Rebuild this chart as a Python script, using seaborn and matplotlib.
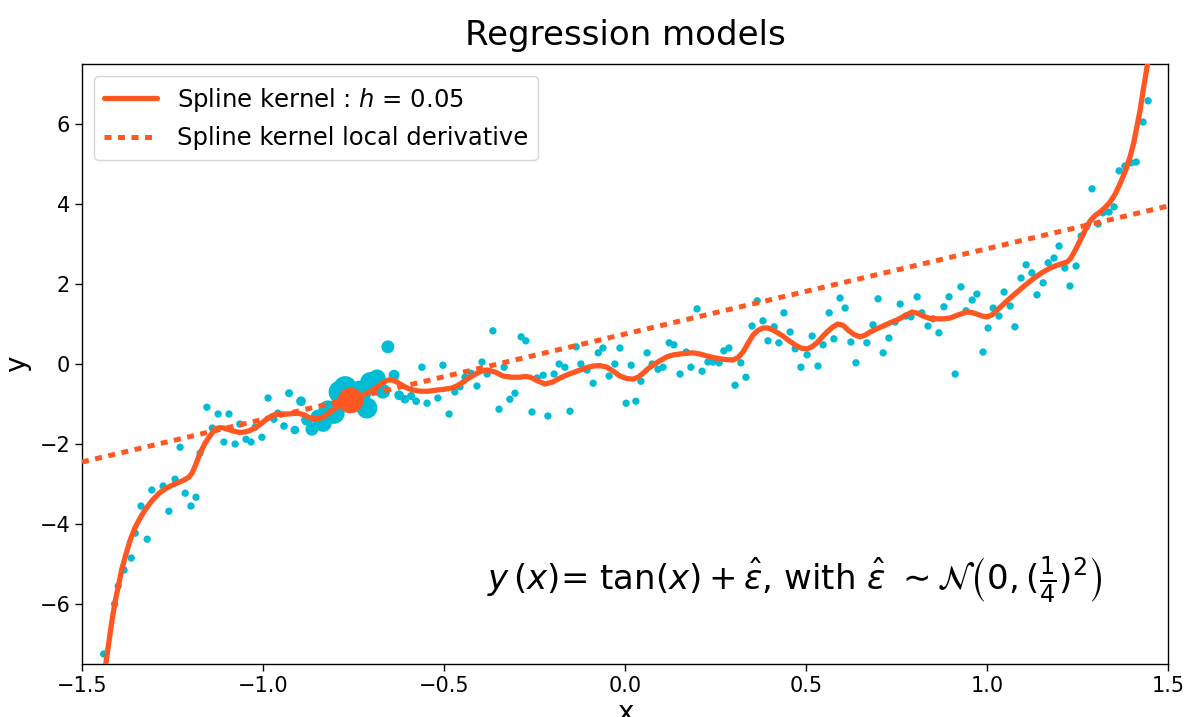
import numpy as np
import pandas as pd
import matplotlib
matplotlib.use("Agg")
import matplotlib.pyplot as plt
import seaborn as sns

# ---- data ----
x_obs = [-1.44, -1.41, -1.40, -1.384, -1.364, -1.353, -1.337, -1.32, -1.307, -1.276, -1.26, -1.243,
         -1.229, -1.215, -1.199, -1.185, -1.174, -1.155, -1.14, -1.124, -1.108, -1.094, -1.077, -1.064,
         -1.047, -1.033, -1.022, -1.003, -0.986, -0.97,
         -0.959, -0.942, -0.928, -0.912, -0.895, -0.879, -0.865, -0.848, -0.834, -0.82, -0.804, -0.787,
         -0.773, -0.745, -0.732, -0.713, -0.704, -0.685, -0.669, -0.655, -0.638, -0.624, -0.608, -0.591,
         -0.577, -0.561, -0.547, -0.517, -0.503, -0.486, -0.47,
         -0.456, -0.442, -0.425, -0.409, -0.395, -0.381, -0.365, -0.348, -0.334, -0.318, -0.304, -0.287,
         -0.274, -0.257, -0.243, -0.226, -0.213, -0.196, -0.182, -0.166, -0.152, -0.135, -0.122, -0.105,
         -0.088, -0.074, -0.061, -0.044, -0.028, -0.014, 0.003, 0.017, 0.03, 0.044, 0.061,
         0.075, 0.091, 0.105, 0.122, 0.135, 0.152, 0.169, 0.182, 0.199, 0.213, 0.229, 0.243, 0.26, 0.273,
         0.287, 0.304, 0.32, 0.334, 0.351, 0.365, 0.381, 0.395, 0.412, 0.425, 0.439, 0.456, 0.47, 0.486,
         0.503, 0.517, 0.533, 0.547, 0.564, 0.577, 0.594, 0.608, 0.624, 0.638,
         0.668, 0.685, 0.699, 0.713, 0.729, 0.746, 0.76, 0.776, 0.79, 0.807, 0.82, 0.837, 0.851, 0.867,
         0.881, 0.895, 0.912, 0.928, 0.942, 0.959, 0.972, 0.989, 1.003, 1.017, 1.033, 1.047, 1.064, 1.077,
         1.094, 1.108,
         1.124, 1.138, 1.155, 1.169, 1.185, 1.199, 1.215, 1.229, 1.246, 1.26, 1.276, 1.29, 1.307, 1.32,
         1.337, 1.351, 1.365, 1.381, 1.398, 1.412, 1.431, 1.445]
y_obs = [-7.25, -6.0, -5.55, -5.15, -4.85, -4.23, -3.55, -4.38, -3.15, -3.05, -3.68, -2.88,
         -2.08, -3.23, -3.55, -3.33, -2.23, -1.08, -1.6, -1.25, -1.95, -1.25, -2.0, -1.5,
         -1.88, -1.95, -1.58, -1.83, -0.85, -1.38,
         -1.23, -1.55, -0.73, -1.65, -0.93, -1.4, -1.63, -1.33, -1.48, -1.15, -1.23, -0.7,
         -0.6, -0.82, -0.7, -1.1, -0.45, -0.35, -0.68, 0.43, -0.28, -0.78, -0.88, -0.8,
         -0.93, -0.08, -0.98, -0.85, -0.03, -1.25, -0.7,
         -0.57, -0.33, -0.23, -0.55, 0.05, -0.25, 0.83, -1.13, -0.08, -0.88, -0.73, 0.68,
         0.58, -1.2, -0.35, -0.28, -1.3, -0.25, 0.0, -0.08, -1.18, 0.43, 0.0, -0.15,
         -0.48, 0.28, 0.4, -0.3, 0.0, 0.4, -0.98, -0.03, -0.93, -0.43, 0.28,
         0.0, -0.13, -0.08, 0.53, 0.48, -0.25, 0.3, -0.08, 1.38, -0.18, 0.05, 0.05, 0.03, 0.33,
         0.4, -0.53, 0.03, -0.33, 0.95, 1.58, 1.08, 0.58, 0.93, 0.53, 1.28, 0.8, 0.38, -0.08,
         0.23, 0.7, -0.05, 0.48, 1.28, 0.63, 1.65, 1.4, 0.55, 0.03,
         0.53, 0.98, 1.63, 0.28, 0.65, 1.05, 1.5, 1.2, 1.18, 1.68, 1.28, 0.95, 1.13, 0.78,
         1.43, 1.68, -0.25, 1.93, 1.33, 1.6, 1.75, 0.3, 0.9, 1.4, 1.2, 1.8, 1.45, 0.93,
         2.15, 2.48,
         2.28, 1.73, 2.03, 2.53, 2.65, 2.95, 2.4, 1.95, 2.45, 3.2, 3.45, 4.38, 3.5, 3.78,
         3.8, 3.93, 4.83, 4.95, 5.03, 5.05, 6.05, 6.58]

curve_x = [-1.445, -1.434, -1.425, -1.417, -1.408, -1.398, -1.39, -1.381, -1.368, -1.354, -1.34,
           -1.326, -1.307, -1.287, -1.27, -1.251, -1.233, -1.218, -1.205, -1.196, -1.186,
           -1.174, -1.16, -1.149, -1.14, -1.133, -1.12, -1.108, -1.094, -1.08, -1.065, -1.05, -1.036,
           -1.022, -1.011, -1.0, -0.986, -0.972, -0.953, -0.934, -0.918, -0.903, -0.887, -0.87,
           -0.852, -0.834, -0.815, -0.796, -0.778, -0.76, -0.742, -0.724, -0.705, -0.685, -0.67,
           -0.655, -0.642, -0.63, -0.616, -0.602, -0.585, -0.566, -0.543, -0.519, -0.498, -0.478,
           -0.463, -0.447, -0.428, -0.409, -0.395, -0.381, -0.359, -0.337, -0.313, -0.29, -0.276,
           -0.262, -0.241, -0.221, -0.2, -0.18, -0.157, -0.133, -0.11, -0.088, -0.069, -0.05, -0.032,
           -0.014, 0.004, 0.022, 0.036, 0.05, 0.063, 0.077, 0.096, 0.116, 0.134, 0.152, 0.17, 0.188,
           0.207, 0.227, 0.245, 0.262, 0.28, 0.298, 0.312, 0.326, 0.34, 0.354, 0.367, 0.381, 0.395,
           0.409, 0.422, 0.436, 0.455, 0.475, 0.489, 0.503, 0.516, 0.53, 0.544, 0.558, 0.573, 0.588,
           0.602, 0.616, 0.632, 0.649, 0.663, 0.677, 0.695, 0.713, 0.732, 0.751, 0.772, 0.793, 0.808,
           0.823, 0.842, 0.862, 0.88, 0.898, 0.921, 0.945, 0.958, 0.972, 0.986, 1.0, 1.014, 1.028,
           1.046, 1.064, 1.082, 1.1, 1.123, 1.146, 1.164, 1.182, 1.2, 1.221, 1.23, 1.238, 1.25, 1.262,
           1.273, 1.285, 1.298, 1.312, 1.326, 1.34, 1.354, 1.367, 1.381, 1.395, 1.405, 1.414, 1.423,
           1.431, 1.438, 1.445]
curve_y = [-7.8, -7.48, -6.9, -6.4, -5.92, -5.48, -5.13, -4.83, -4.43, -4.1, -3.86,
           -3.65, -3.42, -3.23, -3.12, -3.03, -2.96, -2.9, -2.83, -2.73, -2.52,
           -2.23, -1.98, -1.83, -1.72, -1.63, -1.59, -1.6, -1.64, -1.68, -1.71, -1.7, -1.66,
           -1.6, -1.53, -1.45, -1.35, -1.28, -1.25, -1.25, -1.24, -1.23, -1.27, -1.35,
           -1.37, -1.33, -1.2, -1.08, -0.98, -0.9, -0.84, -0.78, -0.69, -0.58, -0.47,
           -0.4, -0.4, -0.45, -0.53, -0.6, -0.65, -0.68, -0.68, -0.65, -0.63, -0.6,
           -0.54, -0.45, -0.33, -0.23, -0.17, -0.15, -0.2, -0.3, -0.33, -0.33, -0.31,
           -0.33, -0.42, -0.5, -0.45, -0.35, -0.26, -0.18, -0.1, -0.05, -0.04, -0.08, -0.18,
           -0.3, -0.36, -0.38, -0.33, -0.23, -0.12, -0.03, 0.08, 0.18, 0.23, 0.25, 0.27, 0.28,
           0.25, 0.2, 0.16, 0.13, 0.11, 0.1, 0.16, 0.3, 0.52, 0.73, 0.84, 0.9, 0.9,
           0.85, 0.78, 0.7, 0.57, 0.45, 0.39, 0.38, 0.43, 0.53, 0.67, 0.8, 0.92, 1.0,
           0.97, 0.85, 0.74, 0.68, 0.72, 0.8, 0.88, 0.95, 1.03, 1.1, 1.2, 1.3, 1.27,
           1.2, 1.14, 1.13, 1.13, 1.15, 1.23, 1.3, 1.29, 1.25, 1.2, 1.18, 1.23, 1.35,
           1.5, 1.65, 1.79, 1.93, 2.1, 2.25, 2.35, 2.43, 2.49, 2.55, 2.63, 2.75, 2.96, 3.18,
           3.38, 3.58, 3.71, 3.8, 3.91, 4.05, 4.25, 4.5, 4.8, 5.18, 5.52, 5.93, 6.35,
           6.83, 7.2, 7.6]

deriv_x = [-1.5, 1.5]
deriv_y = [-2.45, 3.95]

x_local = -0.76
y_local = -0.9
bandwidth = 0.05

title = "Regression models"
legend_fit = r"Spline kernel : $h$ = 0.05"
legend_deriv = "Spline kernel local derivative"
formula = (r"$y\,(x)$= $\tan(x)+\hat{\varepsilon}$, with $\hat{\varepsilon}$ "
           r"$\sim\mathcal{N}\left(0,(\frac{1}{4})^2\right)$")

# ---- styling ----
CYAN = "#00bcd4"
ORANGE = "#ff5722"

sns.set_theme(style="ticks")
plt.rcParams["font.family"] = ["DejaVu Sans"]
plt.rcParams["mathtext.fontset"] = "dejavusans"
for key in ["text.color", "axes.labelcolor", "xtick.color", "ytick.color", "axes.edgecolor"]:
    plt.rcParams[key] = "black"

fig = plt.figure(figsize=(11.97, 7.17), dpi=100)
ax = fig.add_axes([0.0685, 0.0739, 0.9073, 0.8368])

df = pd.DataFrame({"x": x_obs, "y": y_obs})
df["w"] = np.exp(-0.5 * ((df["x"] - x_local) / (1.2 * bandwidth)) ** 2)

sns.scatterplot(data=df, x="x", y="y", size="w", sizes=(28, 300), size_norm=(0, 1),
                color=CYAN, linewidth=0, legend=False, ax=ax, zorder=2)

sns.lineplot(x=curve_x, y=curve_y, sort=False, estimator=None, color=ORANGE,
             linewidth=3.8, label=legend_fit, ax=ax, zorder=3)
sns.lineplot(x=deriv_x, y=deriv_y, sort=False, estimator=None, color=ORANGE,
             linewidth=3.6, linestyle=(0, (1.4, 1.3)), label=legend_deriv, ax=ax, zorder=3)
sns.scatterplot(x=[x_local], y=[y_local], s=340, color=ORANGE, linewidth=0,
                legend=False, ax=ax, zorder=4)

ax.set_xlim(-1.5, 1.5)
ax.set_ylim(-7.5, 7.5)
ax.set_xticks([-1.5, -1.0, -0.5, 0.0, 0.5, 1.0, 1.5])
ax.set_yticks([-6, -4, -2, 0, 2, 4, 6])
ax.tick_params(labelsize=15, direction="out", length=5, width=1, colors="black")
for s in ax.spines.values():
    s.set_visible(True)
    s.set_color("black")
    s.set_linewidth(1)

ax.set_xlabel("x", fontsize=20, labelpad=2)
ax.set_ylabel("y", fontsize=20, labelpad=6)
ax.set_title(title, fontsize=24.5, pad=14)

ax.text(-0.38, -5.4, formula, fontsize=24.5, va="center", ha="left")

leg = ax.legend(loc="upper left", fontsize=17.5, handlelength=2.2, frameon=True,
                fancybox=True, framealpha=0.8, borderpad=0.4)

fig.savefig("out.png", dpi=100)
